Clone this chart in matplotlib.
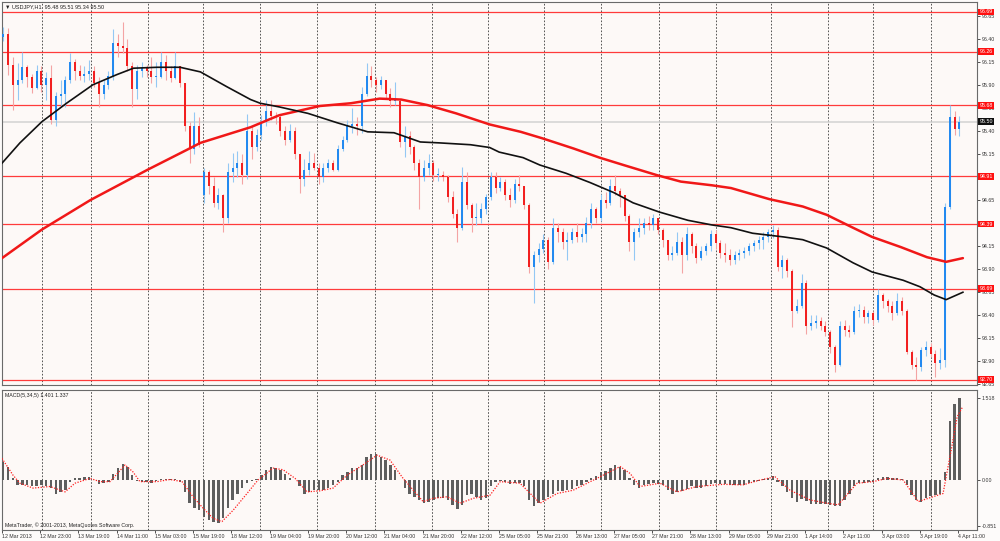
import matplotlib
matplotlib.use('Agg')
import matplotlib.pyplot as plt
from matplotlib.transforms import blended_transform_factory
import numpy as np

FONT = ['Liberation Sans', 'DejaVu Sans']
plt.rcParams['font.family'] = FONT

# ---------------- data (2-hour candles) ----------------
header_text = "\u25bc USDJPY,H1  95.48 95.51 95.34 95.50"
macd_text = "MACD(5,34,5) 1.401 1.337"
credit_text = "MetaTrader, \u00a9 2001-2013, MetaQuotes Software Corp."

closes = [
    96.45, 96.11, 95.90, 95.95, 96.09, 95.98, 95.87, 96.05, 95.90, 95.97,
    95.52, 95.78, 95.80, 95.95, 96.15, 96.05, 96.00, 96.02, 96.05, 95.92,
    95.80, 95.90, 96.00, 96.35, 96.32, 96.30, 96.10, 95.85, 96.05, 96.08,
    96.05, 95.98, 95.98, 96.15, 96.05, 95.97, 96.10, 95.92, 95.45, 95.20,
    95.45, 95.25, 94.95, 94.80, 94.62, 94.70, 94.45, 94.95, 95.00, 95.05,
    94.92, 95.40, 95.22, 95.36, 95.50, 95.62, 95.56, 95.55, 95.40, 95.30,
    95.40, 95.15, 94.88, 94.98, 95.05, 95.00, 94.90, 95.00, 95.05, 94.98,
    95.20, 95.30, 95.45, 95.48, 95.45, 95.80, 96.00, 95.95, 95.90, 95.95,
    95.80, 95.72, 95.72, 95.28, 95.35, 95.22, 95.05, 94.90, 95.00, 95.05,
    94.92, 94.92, 94.90, 94.68, 94.50, 94.35, 94.85, 94.60, 94.45, 94.45,
    94.55, 94.68, 94.90, 94.78, 94.85, 94.70, 94.65, 94.82, 94.80, 94.60,
    93.92, 94.05, 94.12, 94.22, 93.98, 94.35, 94.30, 94.20, 94.22, 94.30,
    94.25, 94.28, 94.40, 94.55, 94.45, 94.65, 94.62, 94.80, 94.75, 94.70,
    94.48, 94.20, 94.30, 94.35, 94.40, 94.38, 94.45, 94.32, 94.22, 94.05,
    94.08, 94.20, 94.05, 94.28, 94.15, 94.02, 94.10, 94.15, 94.28, 94.18,
    94.08, 94.05, 94.00, 94.05, 94.08, 94.10, 94.15, 94.18, 94.22, 94.25,
    94.30, 94.32, 93.92, 94.00, 93.88, 93.45, 93.50, 93.75, 93.28, 93.32,
    93.34, 93.28, 93.22, 93.06, 92.86, 93.28, 93.24, 93.22, 93.45, 93.46,
    93.38, 93.42, 93.35, 93.62, 93.55, 93.50, 93.42, 93.56, 93.45, 93.00,
    92.86, 92.84, 93.02, 93.06, 92.98, 92.88, 92.92, 94.58, 95.55, 95.42,
    95.50,
]
highs = [
    96.53, 96.52, 96.20, 96.14, 96.26, 96.12, 96.02, 96.12, 96.10, 96.04,
    96.12, 95.82, 95.95, 96.00, 96.25, 96.18, 96.12, 96.10, 96.17, 96.10,
    95.98, 95.95, 96.05, 96.50, 96.45, 96.58, 96.40, 96.15, 96.12, 96.15,
    96.12, 96.20, 96.15, 96.26, 96.22, 96.10, 96.26, 96.10, 95.92, 95.50,
    95.60, 95.55, 95.00, 94.98, 94.90, 94.78, 94.72, 95.05, 95.16, 95.18,
    95.15, 95.58, 95.45, 95.42, 95.57, 95.74, 95.73, 95.60, 95.58, 95.45,
    95.47, 95.44, 95.15, 95.10, 95.18, 95.16, 95.05, 95.05, 95.10, 95.08,
    95.25, 95.35, 95.52, 95.65, 95.55, 95.88, 96.14, 96.10, 95.98, 96.00,
    95.95, 95.86, 95.93, 95.75, 95.45, 95.40, 95.25, 95.10, 95.08, 95.15,
    95.08, 95.00, 94.97, 94.92, 94.75, 94.55, 95.01, 94.95, 94.62, 94.62,
    94.62, 94.72, 94.95, 94.95, 94.90, 94.88, 94.78, 94.88, 94.92, 94.80,
    94.62, 94.10, 94.18, 94.28, 94.25, 94.45, 94.40, 94.35, 94.30, 94.35,
    94.40, 94.35, 94.47, 94.62, 94.58, 94.72, 94.74, 94.88, 94.92, 94.78,
    94.70, 94.50, 94.35, 94.45, 94.45, 94.48, 94.50, 94.45, 94.35, 94.22,
    94.15, 94.30, 94.25, 94.36, 94.30, 94.18, 94.15, 94.18, 94.33, 94.32,
    94.22, 94.18, 94.12, 94.10, 94.12, 94.14, 94.18, 94.22, 94.26, 94.30,
    94.34, 94.38, 94.36, 94.05, 94.02, 93.90, 93.58, 93.85, 93.78, 93.40,
    93.40, 93.38, 93.34, 93.24, 93.08, 93.34, 93.35, 93.30, 93.50, 93.52,
    93.50, 93.46, 93.45, 93.68, 93.64, 93.58, 93.56, 93.64, 93.60, 93.47,
    93.02, 92.95, 93.06, 93.12, 93.10, 93.02, 93.05, 94.62, 95.68, 95.62,
    95.56,
]
lows = [
    96.38, 96.01, 95.63, 95.74, 95.92, 95.88, 95.81, 95.85, 95.82, 95.74,
    95.48, 95.45, 95.66, 95.66, 95.92, 95.95, 95.95, 95.93, 95.95, 95.88,
    95.66, 95.75, 95.85, 95.95, 96.20, 96.25, 96.05, 95.66, 95.75, 95.98,
    95.98, 95.92, 95.88, 95.97, 95.95, 95.93, 95.96, 95.88, 95.40, 95.05,
    95.15, 95.22, 94.62, 94.72, 94.58, 94.55, 94.30, 94.40, 94.85, 94.90,
    94.82, 94.88, 95.10, 95.18, 95.30, 95.45, 95.52, 95.48, 95.35, 95.25,
    95.28, 95.10, 94.73, 94.80, 94.92, 94.98, 94.82, 94.85, 94.95, 94.96,
    94.96, 95.18, 95.28, 95.38, 95.36, 95.38, 95.78, 95.88, 95.82, 95.85,
    95.75, 95.66, 95.68, 95.22, 95.12, 95.15, 94.98, 94.55, 94.86, 94.92,
    94.86, 94.86, 94.86, 94.63, 94.45, 94.20, 94.33, 94.55, 94.30, 94.38,
    94.40, 94.50, 94.65, 94.73, 94.75, 94.65, 94.57, 94.62, 94.75, 94.55,
    93.86, 93.53, 93.98, 94.08, 93.90, 93.96, 94.20, 94.12, 94.00, 94.18,
    94.20, 94.20, 94.20, 94.35, 94.40, 94.42, 94.56, 94.60, 94.70, 94.58,
    94.42, 94.10, 94.00, 94.25, 94.28, 94.33, 94.32, 94.28, 94.14, 94.00,
    94.00, 94.05, 93.86, 94.00, 94.08, 93.97, 94.00, 94.05, 94.10, 94.12,
    94.02, 93.98, 93.95, 93.96, 94.00, 94.02, 94.05, 94.10, 94.12, 94.12,
    94.20, 94.24, 93.88, 93.80, 93.82, 93.27, 93.42, 93.48, 93.20, 93.24,
    93.26, 93.24, 93.18, 92.99, 92.79, 92.85, 93.18, 93.16, 93.20, 93.38,
    93.32, 93.32, 93.30, 93.33, 93.48, 93.44, 93.35, 93.40, 93.40, 92.98,
    92.82, 92.70, 92.80, 92.96, 92.95, 92.73, 92.82, 92.84, 94.55, 95.36,
    95.34,
]
# each open is the previous close, except the first candle and the Monday gap
opens = [96.42] + closes[:41] + [94.70] + closes[42:-1]

# moving averages (bar index, price)
ma_black_bars = [0, 7.5, 16.7, 27, 38, 48, 55, 65, 74.5, 83, 94, 104, 108, 116, 128,
                 140, 153, 164, 175, 183, 196, 204, 208, 218, 225, 236, 246, 256, 264,
                 275, 287, 297, 305, 314, 327, 335, 345, 356, 364, 377, 384, 390, 395, 402]
ma_black_vals = [95.05, 95.27, 95.50, 95.70, 95.90, 96.01, 96.08, 96.09, 96.09, 96.04,
                 95.88, 95.74, 95.70, 95.66, 95.59, 95.49, 95.39, 95.38, 95.28, 95.27,
                 95.25, 95.22, 95.17, 95.11, 95.03, 94.94, 94.84, 94.73, 94.62, 94.52,
                 94.43, 94.38, 94.35, 94.29, 94.25, 94.22, 94.13, 93.97, 93.87, 93.78,
                 93.71, 93.62, 93.57, 93.65]
ma_red_bars = [0, 16.7, 37, 61, 77, 83, 104, 116, 133, 146, 158, 167, 178, 190, 204,
               217, 226, 239, 250, 260, 274, 284, 297, 305, 321, 335, 345, 356, 364,
               376, 387, 395, 402]
ma_red_vals = [94.02, 94.33, 94.65, 94.98, 95.19, 95.27, 95.44, 95.57, 95.67, 95.70,
               95.75, 95.74, 95.68, 95.59, 95.47, 95.39, 95.32, 95.21, 95.11, 95.03,
               94.92, 94.85, 94.81, 94.78, 94.66, 94.58, 94.49, 94.35, 94.25, 94.14,
               94.03, 93.98, 94.02]

level_prices = [96.69, 96.26, 95.68, 94.91, 94.39, 93.69, 92.70]
current_price = 95.50

macd_hist = [
    0.33, 0.25, 0.03, -0.09, -0.09, -0.09, -0.12, -0.12, -0.09, -0.12,
    -0.15, -0.25, -0.22, -0.19, -0.03, 0.03, 0.03, 0.05, 0.05, 0.00,
    -0.08, -0.06, -0.03, 0.12, 0.22, 0.30, 0.25, 0.09, -0.02, -0.03,
    -0.03, -0.05, -0.02, 0.01, 0.02, 0.01, 0.01, -0.03, -0.22, -0.43,
    -0.51, -0.56, -0.68, -0.74, -0.77, -0.79, -0.71, -0.52, -0.37, -0.25,
    -0.15, -0.06, -0.01, 0.01, 0.09, 0.19, 0.25, 0.23, 0.19, 0.12,
    0.04, 0.00, -0.12, -0.25, -0.22, -0.19, -0.19, -0.19, -0.15, -0.09,
    -0.03, 0.09, 0.15, 0.22, 0.23, 0.28, 0.43, 0.49, 0.48, 0.43,
    0.37, 0.28, 0.19, 0.00, -0.15, -0.25, -0.31, -0.37, -0.43, -0.40,
    -0.37, -0.34, -0.34, -0.37, -0.46, -0.54, -0.46, -0.28, -0.25, -0.31,
    -0.37, -0.34, -0.12, -0.03, -0.02, -0.04, -0.08, -0.06, -0.05, -0.12,
    -0.37, -0.49, -0.43, -0.37, -0.31, -0.25, -0.20, -0.20, -0.19, -0.17,
    -0.12, -0.09, -0.03, 0.04, 0.08, 0.15, 0.17, 0.22, 0.28, 0.25,
    0.19, 0.03, -0.09, -0.14, -0.09, -0.08, -0.06, -0.07, -0.10, -0.19,
    -0.25, -0.23, -0.20, -0.17, -0.12, -0.15, -0.14, -0.11, -0.08, -0.06,
    -0.07, -0.08, -0.09, -0.10, -0.09, -0.09, -0.06, -0.03, -0.01, 0.02,
    0.04, 0.08, -0.03, -0.12, -0.22, -0.34, -0.40, -0.35, -0.39, -0.45,
    -0.45, -0.44, -0.45, -0.46, -0.49, -0.49, -0.37, -0.25, -0.12, -0.06,
    -0.05, -0.04, -0.04, 0.03, 0.06, 0.06, 0.04, 0.03, 0.01, -0.09,
    -0.28, -0.37, -0.40, -0.34, -0.29, -0.27, -0.25, 0.15, 1.10, 1.40,
    1.51,
]
signal_bars = [0, 4.6, 7.5, 13, 20, 26.4, 30.5, 36.8, 41, 45.2, 51.5, 54.8, 57.7, 64.9,
               70.3, 75.3, 79.9, 84.1, 88.3, 92, 96.7, 102.5, 107.1, 113.4, 117.6,
               122.6, 127.6, 133.1, 138.5, 144.4, 151, 156.9, 162.3, 167.8, 176.2,
               180.3, 186.2, 191.6, 197.1, 204.2, 208.4, 216.7, 225.1, 232.2, 238.9,
               250.2, 258.6, 262.8, 266.9, 275.3, 282.4, 290.8, 301.7, 310, 317.2,
               323.4, 329.7, 338.1, 345.2, 349.8, 357.7, 364.4, 370.3, 377, 383.3,
               389.5, 393.7, 397.5, 399.6, 401.7]
signal_vals = [0.40, 0.09, -0.06, -0.15, -0.12, -0.22, -0.06, 0.03, -0.03, -0.03, 0.28,
               0.15, -0.03, -0.03, 0.01, -0.03, -0.31, -0.52, -0.71, -0.77, -0.56,
               -0.25, 0.00, 0.22, 0.19, 0.03, -0.22, -0.20, -0.15, 0.09, 0.28, 0.46,
               0.37, 0.03, -0.40, -0.34, -0.31, -0.43, -0.34, -0.28, -0.03, -0.06,
               -0.43, -0.25, -0.19, 0.06, 0.25, 0.12, -0.12, -0.06, -0.22, -0.12,
               -0.08, -0.09, 0.00, 0.06, -0.19, -0.37, -0.43, -0.46, -0.06, -0.03,
               0.03, 0.00, -0.40, -0.31, -0.25, 0.65, 1.17, 1.34]

x_label_bars = list(range(0, 401, 16))
x_labels = ["12 Mar 2013", "12 Mar 23:00", "13 Mar 19:00", "14 Mar 11:00", "15 Mar 03:00",
            "15 Mar 19:00", "18 Mar 12:00", "19 Mar 04:00", "19 Mar 20:00", "20 Mar 12:00",
            "21 Mar 04:00", "21 Mar 20:00", "22 Mar 12:00", "25 Mar 05:00", "25 Mar 21:00",
            "26 Mar 13:00", "27 Mar 05:00", "27 Mar 21:00", "28 Mar 13:00", "29 Mar 05:00",
            "29 Mar 21:00", "1 Apr 14:00", "2 Apr 11:00", "3 Apr 03:00", "3 Apr 19:00",
            "4 Apr 11:00"]
grid_bars = [16.7, 37.2, 61.1, 84.1, 107.9, 131.8, 156.1, 179.9, 203.3, 226.8, 250.6,
             274.9, 298.7, 321.8, 345.6, 364.4, 388.7]
price_ticks = [92.65, 92.90, 93.15, 93.40, 93.65, 93.90, 94.15, 94.40, 94.65, 94.90,
               95.15, 95.40, 95.65, 95.90, 96.15, 96.40, 96.65]
macd_ticks = [1.518, 0.0, -0.851]
macd_tick_labels = ["1.518", "0.00", "-0.851"]

# ---------------- figure ----------------
W, H = 1000, 541
BG = '#fdf9f7'
fig = plt.figure(figsize=(W / 100, H / 100), dpi=100, facecolor='#fdfbfa')


def rect(x0, y0, x1, y1):
    return [x0 / W, 1 - y1 / H, (x1 - x0) / W, (y1 - y0) / H]


ax = fig.add_axes(rect(2, 2, 977, 385), facecolor=BG)
ax2 = fig.add_axes(rect(2, 390, 977, 530), facecolor=BG)
XLIM = (0, 407.9)
FS = 3.8

for a in (ax, ax2):
    a.set_xlim(*XLIM)
    for s in a.spines.values():
        s.set_color('#6a6a6a')
        s.set_linewidth(0.8)
    for g in grid_bars:
        a.axvline(g, color='#3a3a3a', lw=0.6, ls=(0, (2, 2)), zorder=1)

ax.set_ylim(92.644, 96.798)
ax2.set_ylim(-0.926, 1.667)

# level lines
for p in level_prices:
    ax.axhline(p, color='#ff3b3b', lw=0.9, zorder=2)
ax.axhline(current_price, color='#d2d2d2', lw=1.1, zorder=2)

# candles
xs = np.arange(len(closes)) * 2 + 0.5
o = np.array(opens)
c = np.array(closes)
hi = np.array(highs)
lo = np.array(lows)
bull = c >= o
ax.vlines(xs, lo, hi, colors=np.where(bull, '#94c8f4', '#f4a4a4'), lw=0.8, zorder=3)
bot = np.minimum(o, c)
top = np.maximum(np.maximum(o, c), bot + 0.012)
ax.vlines(xs, bot, top, colors=np.where(bull, '#1f88f0', '#f21c1c'), lw=1.4, zorder=4)

# moving averages
ax.plot(ma_red_bars, ma_red_vals, color='#f01818', lw=1.8, zorder=5, solid_capstyle='round')
ax.plot(ma_black_bars, ma_black_vals, color='#111111', lw=1.2, zorder=5)

# right axis of price panel (tick labels fully covered by a level box are not shown)
ax.yaxis.tick_right()
ax.set_yticks(price_ticks)
ax.set_yticklabels(["" if min(abs(v - p) for p in level_prices) < 0.02 else f"{v:.2f}"
                    for v in price_ticks])
ax.tick_params(axis='y', length=2, width=0.6, pad=1.5, labelsize=FS, colors='#333333')
ax.tick_params(axis='x', bottom=False, labelbottom=False)

tr = blended_transform_factory(ax.transAxes, ax.transData)
for p in level_prices:
    ax.text(1.0025, p, f"{p:.2f}", transform=tr, fontsize=FS, color='white', va='center',
            ha='left', clip_on=False, zorder=10,
            bbox=dict(boxstyle='square,pad=0.18', fc='#ff1010', ec='none'))
ax.text(1.0025, current_price, f"{current_price:.2f}", transform=tr, fontsize=FS, color='white',
        va='center', ha='left', clip_on=False, zorder=10,
        bbox=dict(boxstyle='square,pad=0.18', fc='#101010', ec='none'))

# MACD panel
ax2.bar(xs, macd_hist, width=1.0, color='#5e5e5e', lw=0, zorder=3)
ax2.plot(signal_bars, signal_vals, color='#ff2020', lw=0.9, ls=(0, (1, 1.2)), zorder=4)
ax2.yaxis.tick_right()
ax2.set_yticks(macd_ticks)
ax2.set_yticklabels(macd_tick_labels)
ax2.tick_params(axis='y', length=2, width=0.6, pad=1.5, labelsize=FS, colors='#333333')
ax2.set_xticks(x_label_bars)
ax2.set_xticklabels(x_labels, fontsize=FS, ha='left', color='#333333')
ax2.tick_params(axis='x', length=2, width=0.6, pad=1.2, colors='#333333')

# texts
fig.text(5 / W, 1 - 6.5 / H, header_text, fontsize=4.0, va='center', ha='left',
         color='#222222', family=FONT)
fig.text(5 / W, 1 - 396 / H, macd_text, fontsize=FS, va='center', ha='left', color='#222222')
fig.text(5 / W, 1 - 525 / H, credit_text, fontsize=FS, va='center', ha='left', color='#222222')

fig.savefig('out.png', dpi=100, facecolor=fig.get_facecolor())
